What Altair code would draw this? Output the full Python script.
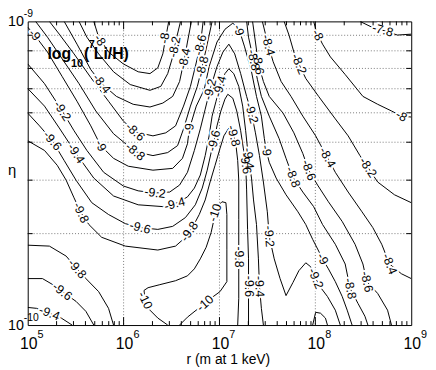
import math
import altair as alt
import pandas as pd

W, H = 389, 308

# axis decades
r_decades = [5, 6, 7, 8, 9]
eta_exponents = [-10, -9]

# ---- contour polylines, points are (log10 r, log10 eta) ----
c_m80_u = [(5.689,-9.000),(5.740,-9.052),(5.843,-9.101),(5.997,-9.140),(6.152,-9.166),(6.275,-9.172),
           (6.357,-9.153),(6.409,-9.107),(6.440,-9.052),(6.471,-9.000)]
c_m82_u = [(5.535,-9.000),(5.617,-9.052),(5.740,-9.107),(5.895,-9.166),(6.069,-9.208),(6.275,-9.227),
           (6.388,-9.214),(6.460,-9.172),(6.512,-9.117),(6.542,-9.068),(6.594,-9.000)]
c_m84_u = [(5.380,-9.000),(5.514,-9.075),(5.658,-9.159),(5.771,-9.205),(5.925,-9.247),(6.100,-9.273),
           (6.275,-9.282),(6.409,-9.269),(6.512,-9.247),(6.584,-9.198),(6.635,-9.123),(6.666,-9.068),(6.707,-9.000)]
c_m86_u = [(5.226,-9.000),(5.329,-9.042),(5.483,-9.107),(5.658,-9.185),(5.843,-9.263),(5.997,-9.328),
           (6.121,-9.364),(6.306,-9.377),(6.440,-9.367),(6.542,-9.344),(6.625,-9.279),(6.697,-9.214),
           (6.748,-9.149),(6.800,-9.078),(6.830,-9.000)]
c_m88_u = [(5.082,-9.000),(5.206,-9.052),(5.380,-9.133),(5.535,-9.205),(5.710,-9.295),(5.895,-9.370),
           (6.121,-9.429),(6.306,-9.442),(6.460,-9.432),(6.563,-9.409),(6.625,-9.354),(6.697,-9.279),
           (6.769,-9.214),(6.820,-9.149),(6.872,-9.075),(6.923,-9.000)]
c_m90 = [(5.000,-9.019),(5.072,-9.045),(5.206,-9.101),(5.360,-9.182),(5.514,-9.263),(5.658,-9.344),
         (5.761,-9.409),(5.895,-9.451),(6.049,-9.477),(6.306,-9.490),(6.512,-9.484),(6.614,-9.451),
         (6.666,-9.403),(6.686,-9.354),(6.758,-9.279),(6.841,-9.224),(6.892,-9.149),(6.974,-9.068),
         (7.057,-9.026),(7.139,-9.006),(7.201,-9.023),(7.262,-9.084),(7.334,-9.166),(7.386,-9.247),
         (7.437,-9.312),(7.468,-9.386),(7.488,-9.425),(7.519,-9.464),(7.591,-9.516),(7.694,-9.571),
         (7.818,-9.627),(7.900,-9.669),(7.972,-9.718),(8.034,-9.756),(8.075,-9.782),(8.136,-9.815),
         (8.208,-9.857),(8.280,-9.906),(8.332,-9.951),(8.383,-10.000)]
c_m92 = [(5.000,-9.140),(5.175,-9.205),(5.360,-9.295),(5.483,-9.360),(5.617,-9.425),(5.792,-9.497),
         (5.997,-9.542),(6.152,-9.558),(6.327,-9.565),(6.481,-9.562),(6.584,-9.539),(6.666,-9.497),
         (6.738,-9.425),(6.800,-9.354),(6.851,-9.289),(6.902,-9.224),(6.974,-9.149),(7.036,-9.101),
         (7.098,-9.075),(7.159,-9.107),(7.221,-9.172),(7.283,-9.247),(7.334,-9.302),(7.375,-9.367),
         (7.417,-9.442),(7.458,-9.529),(7.499,-9.627),(7.519,-9.708),(7.571,-9.782),(7.632,-9.847),
         (7.694,-9.903),(7.766,-9.860),(7.828,-9.821),(7.900,-9.795),(7.951,-9.808),(8.003,-9.847),
         (8.064,-9.880),(8.126,-9.906),(8.208,-9.951),(8.260,-10.000)]
c_m94 = [(5.000,-9.221),(5.175,-9.279),(5.329,-9.351),(5.504,-9.435),(5.689,-9.516),(5.895,-9.575),
         (6.152,-9.604),(6.409,-9.610),(6.563,-9.597),(6.666,-9.578),(6.738,-9.549),(6.800,-9.506),
         (6.851,-9.442),(6.892,-9.377),(6.923,-9.312),(6.964,-9.263),(7.005,-9.214),(7.057,-9.172),
         (7.098,-9.156),(7.149,-9.172),(7.201,-9.214),(7.242,-9.279),(7.273,-9.360),(7.303,-9.451),
         (7.334,-9.516),(7.355,-9.588),(7.386,-9.669),(7.406,-9.782),(7.417,-9.873),(7.437,-9.945),
         (7.458,-10.000)]
c_m96 = [(5.000,-9.302),(5.123,-9.344),(5.257,-9.393),(5.380,-9.458),(5.504,-9.523),(5.668,-9.597),
         (5.843,-9.636),(6.018,-9.666),(6.172,-9.679),(6.357,-9.685),(6.512,-9.675),(6.645,-9.646),
         (6.748,-9.604),(6.820,-9.549),(6.872,-9.490),(6.913,-9.432),(6.944,-9.393),(6.974,-9.344),
         (7.015,-9.295),(7.057,-9.256),(7.087,-9.240),(7.139,-9.253),(7.180,-9.295),(7.221,-9.360),
         (7.252,-9.425),(7.273,-9.468),(7.283,-9.555),(7.293,-9.685),(7.303,-9.782),(7.303,-9.870),
         (7.303,-10.000)]
c_m98 = [(5.000,-9.393),(5.175,-9.425),(5.308,-9.474),(5.401,-9.523),(5.483,-9.581),(5.555,-9.630),
         (5.638,-9.669),(5.771,-9.711),(6.018,-9.740),(6.357,-9.753),(6.542,-9.740),(6.645,-9.711),
         (6.717,-9.679),(6.789,-9.636),(6.851,-9.588),(6.902,-9.529),(6.954,-9.474),(7.005,-9.419),
         (7.046,-9.377),(7.098,-9.351),(7.139,-9.364),(7.170,-9.403),(7.190,-9.458),(7.201,-9.523),
         (7.201,-9.653),(7.201,-9.776),(7.201,-9.912),(7.190,-10.000)]
c_m100 = [(6.460,-10.000),(6.357,-9.977),(6.275,-9.951),(6.224,-9.919),(6.213,-9.886),(6.255,-9.877),
          (6.378,-9.867),(6.542,-9.854),(6.666,-9.838),(6.738,-9.815),(6.800,-9.782),(6.861,-9.744),
          (6.913,-9.695),(6.954,-9.636),(6.985,-9.607),(7.026,-9.594),(7.067,-9.597),(7.077,-9.636),
          (7.077,-9.750),(7.077,-9.857),(7.005,-9.890),(6.923,-9.909),(6.851,-9.929),(6.769,-9.948),
          (6.666,-9.974),(6.584,-10.000)]
c_m98_ll = [(5.000,-9.737),(5.226,-9.740),(5.401,-9.773),(5.514,-9.815),(5.607,-9.847),(5.740,-9.890),
            (5.843,-9.945),(5.895,-10.000)]
c_m96_ll = [(5.000,-9.847),(5.154,-9.847),(5.278,-9.870),(5.360,-9.890),(5.504,-9.922),(5.607,-9.955),
            (5.689,-10.000)]
c_m94_ll = [(5.000,-9.942),(5.093,-9.945),(5.226,-9.961),(5.350,-9.977),(5.463,-10.000)]
c_m92_bump = [(7.972,-10.000),(8.003,-9.958),(8.054,-9.961),(8.105,-9.977),(8.126,-10.000)]
c_m88_r = [(7.283,-9.000),(7.303,-9.052),(7.355,-9.127),(7.396,-9.192),(7.437,-9.247),(7.519,-9.312),
           (7.622,-9.386),(7.694,-9.451),(7.766,-9.513),(7.869,-9.562),(7.982,-9.610),(8.075,-9.669),
           (8.208,-9.734),(8.311,-9.799),(8.363,-9.880),(8.445,-9.929),(8.517,-9.971),(8.548,-10.000)]
c_m86_r = [(7.345,-9.000),(7.375,-9.068),(7.406,-9.140),(7.458,-9.198),(7.519,-9.247),(7.663,-9.302),
           (7.776,-9.367),(7.869,-9.435),(7.931,-9.490),(8.023,-9.539),(8.136,-9.594),(8.280,-9.659),
           (8.414,-9.734),(8.496,-9.799),(8.537,-9.857),(8.650,-9.896),(8.753,-9.951),(8.794,-10.000)]
c_m84_r = [(7.447,-9.000),(7.488,-9.052),(7.509,-9.078),(7.560,-9.133),(7.643,-9.198),(7.746,-9.247),
           (7.869,-9.312),(8.003,-9.377),(8.085,-9.425),(8.126,-9.448),(8.208,-9.497),(8.342,-9.562),
           (8.486,-9.627),(8.599,-9.679),(8.692,-9.734),(8.774,-9.799),(8.897,-9.831),(9.000,-9.847)]
c_m82_r = [(7.674,-9.000),(7.725,-9.045),(7.776,-9.101),(7.828,-9.140),(7.900,-9.188),(8.034,-9.247),
           (8.208,-9.321),(8.342,-9.377),(8.465,-9.442),(8.548,-9.481),(8.650,-9.529),(8.825,-9.571),
           (9.000,-9.597)]
c_m80_r = [(7.982,-9.000),(8.013,-9.036),(8.075,-9.075),(8.157,-9.117),(8.311,-9.175),(8.496,-9.247),
           (8.650,-9.273),(8.794,-9.295),(8.897,-9.312),(9.000,-9.315)]
c_m78 = [(8.465,-9.000),(8.589,-9.019),(8.702,-9.029),(8.856,-9.045),(9.000,-9.042)]

# ---- contour labels ----
lab_text = ["-8","-9","-8.4","-9.2","-9.6","-9.4","-9","-8.6","-8.8","-8","-8.2","-8.4","-8.6","-8.8",
            "-9","-9.2","-9.4","-9","-9.6","-9.8","-9.2","-8.8","-8.6","-8.4","-8.2","-8","-7.8","-9",
            "-9.4","-9.6","-8.8","-8.6","-8.4","-8.2","-8","-9.2","-9.4","-9.6","-9.8","-9.8","-9.8",
            "-9.6","-9.4","-10","-10","-10","-9.8","-9.6","-9.4","-9.2","-9.2","-9","-8.8","-8.6","-8.4"]
lab_lr = [5.751,5.072,5.771,5.360,5.257,5.504,5.761,6.121,6.121,6.429,6.532,6.635,6.800,6.820,
          6.686,6.902,7.005,7.201,6.944,7.149,7.334,7.355,7.406,7.509,7.828,8.023,8.702,7.488,
          7.303,7.273,7.766,7.931,8.126,8.548,8.897,6.327,6.532,6.172,6.686,5.555,5.514,
          5.360,5.226,6.224,6.954,6.851,7.201,7.303,7.417,7.519,8.003,8.075,8.363,8.537,8.774]
lab_leta = [-9.062,-9.045,-9.205,-9.295,-9.393,-9.435,-9.409,-9.364,-9.429,-9.055,-9.084,-9.123,-9.078,-9.149,
            -9.354,-9.224,-9.214,-9.029,-9.393,-9.377,-9.302,-9.127,-9.140,-9.078,-9.140,-9.045,-9.029,-9.425,
            -9.451,-9.468,-9.513,-9.490,-9.448,-9.481,-9.312,-9.565,-9.601,-9.679,-9.692,-9.630,-9.815,
            -9.890,-9.961,-9.919,-9.630,-9.929,-9.776,-9.873,-9.873,-9.708,-9.847,-9.782,-9.880,-9.857,-9.799]

lines = [(-8.0, c_m80_u), (-8.2, c_m82_u), (-8.4, c_m84_u), (-8.6, c_m86_u), (-8.8, c_m88_u),
         (-9.0, c_m90), (-9.2, c_m92), (-9.4, c_m94), (-9.6, c_m96), (-9.8, c_m98), (-10.0, c_m100),
         (-9.8, c_m98_ll), (-9.6, c_m96_ll), (-9.4, c_m94_ll), (-9.2, c_m92_bump),
         (-8.8, c_m88_r), (-8.6, c_m86_r), (-8.4, c_m84_r), (-8.2, c_m82_r), (-8.0, c_m80_r), (-7.8, c_m78)]

rows = []
for i, (lev, pts) in enumerate(lines):
    for j, (lx, ly) in enumerate(pts):
        rows.append({"id": i, "o": j, "r": 10 ** lx, "eta": 10 ** ly})
df_lines = pd.DataFrame(rows)


def to_screen(lx, ly):
    return (lx - 5) / 4 * W, (-9 - ly) * H


def label_angle(lev, lx, ly):
    px, py = to_screen(lx, ly)
    best = None
    for l, pts in lines:
        if abs(l - lev) > 1e-6:
            continue
        for (ax, ay), (bx, by) in zip(pts[:-1], pts[1:]):
            x1, y1 = to_screen(ax, ay)
            x2, y2 = to_screen(bx, by)
            dx, dy = x2 - x1, y2 - y1
            L2 = dx * dx + dy * dy
            t = max(0.0, min(1.0, ((px - x1) * dx + (py - y1) * dy) / L2)) if L2 > 0 else 0.0
            d = math.hypot(x1 + t * dx - px, y1 + t * dy - py)
            if best is None or d < best[0]:
                best = (d, dx, dy)
    ang = math.degrees(math.atan2(best[2], best[1]))
    while ang > 90:
        ang -= 180
    while ang <= -90:
        ang += 180
    return ang


df_lab = pd.DataFrame({
    "t": lab_text,
    "r": [10 ** v for v in lab_lr],
    "eta": [10 ** v for v in lab_leta],
    "ang": [label_angle(float(t), x, y) for t, x, y in zip(lab_text, lab_lr, lab_leta)],
})

FONT = "Liberation Sans"
xs = alt.Scale(type="log", domain=[1e5, 1e9], nice=False)
ys = alt.Scale(type="log", domain=[1e-10, 1e-9], nice=False)


def X():
    return alt.X("r:Q", scale=xs, axis=None)


def Y():
    return alt.Y("eta:Q", scale=ys, axis=None)


grid_col = "#7a7a7a"
grid_x = alt.Chart(pd.DataFrame({"r": [10.0 ** d for d in r_decades[1:-1]]})).mark_rule(
    color=grid_col, strokeDash=[1, 2], strokeWidth=1).encode(x=X(), y=alt.value(0), y2=alt.value(H))
grid_y = alt.Chart(pd.DataFrame({"eta": [k * 1e-10 for k in range(2, 10)]})).mark_rule(
    color=grid_col, strokeDash=[1, 2], strokeWidth=1).encode(y=Y(), x=alt.value(0), x2=alt.value(W))

minor_x = pd.DataFrame({"r": [k * 10.0 ** d for d in range(5, 9) for k in range(2, 10)]})
major_x = pd.DataFrame({"r": [10.0 ** d for d in r_decades[1:-1]]})
ticks_y = pd.DataFrame({"eta": [k * 1e-10 for k in range(2, 10)]})
tk = dict(color="black", strokeWidth=1)
ticks = [
    alt.Chart(minor_x).mark_rule(**tk).encode(x=X(), y=alt.value(H - 4), y2=alt.value(H)),
    alt.Chart(minor_x).mark_rule(**tk).encode(x=X(), y=alt.value(0), y2=alt.value(4)),
    alt.Chart(major_x).mark_rule(**tk).encode(x=X(), y=alt.value(H - 8), y2=alt.value(H)),
    alt.Chart(major_x).mark_rule(**tk).encode(x=X(), y=alt.value(0), y2=alt.value(8)),
    alt.Chart(ticks_y).mark_rule(**tk).encode(y=Y(), x=alt.value(0), x2=alt.value(5)),
    alt.Chart(ticks_y).mark_rule(**tk).encode(y=Y(), x=alt.value(W - 5), x2=alt.value(W)),
]

contour_lines = alt.Chart(df_lines).mark_line(color="black", strokeWidth=1, clip=True).encode(
    x=X(), y=Y(), detail="id:N", order="o:Q")

LSIZE = 12.5
lab_halo = alt.Chart(df_lab).mark_text(
    font=FONT, fontSize=LSIZE, color="white", stroke="white", strokeWidth=4, strokeJoin="round",
    align="center", baseline="middle").encode(
    x=X(), y=Y(), text="t:N", angle=alt.Angle("ang:Q", scale=None))
lab_txt = alt.Chart(df_lab).mark_text(
    font=FONT, fontSize=LSIZE, color="black", align="center", baseline="middle").encode(
    x=X(), y=Y(), text="t:N", angle=alt.Angle("ang:Q", scale=None))

# axis tick labels "10" with superscript exponent
df_xlab = pd.DataFrame({"r": [10.0 ** d for d in r_decades], "e": [str(d) for d in r_decades]})
xlab_base = alt.Chart(df_xlab).mark_text(font=FONT, fontSize=16, align="center", baseline="alphabetic",
                                         dx=1).encode(x=X(), y=alt.value(H + 24), text=alt.value("10"))
xlab_exp = alt.Chart(df_xlab).mark_text(font=FONT, fontSize=11, align="left", baseline="alphabetic",
                                        dx=10).encode(x=X(), y=alt.value(H + 13), text="e:N")
df_ylab = pd.DataFrame({"eta": [10.0 ** e for e in eta_exponents], "e": [str(e) for e in eta_exponents]})
ylab_base = alt.Chart(df_ylab).mark_text(font=FONT, fontSize=14.5, align="left", baseline="alphabetic",
                                         dy=5).encode(x=alt.value(-20), y=Y(), text=alt.value("10"))
ylab_exp = alt.Chart(df_ylab).mark_text(font=FONT, fontSize=10.5, align="left", baseline="alphabetic",
                                        dy=-4).encode(x=alt.value(-4), y=Y(), text="e:N")

one = pd.DataFrame({"a": [0]})


def txt(s, x, y, size, bold=False, align="left"):
    return alt.Chart(one).mark_text(font=FONT, fontSize=size, fontWeight="bold" if bold else "normal",
                                    align=align, baseline="alphabetic", color="black").encode(
        x=alt.value(x), y=alt.value(y), text=alt.value(s))


title_parts = [
    txt("log", 20, 38, 16, True),
    txt("10", 44, 46, 11, True),
    txt("(", 57, 38, 16, True),
    txt("7", 62, 27, 11, True),
    txt("Li/H)", 67, 38, 16, True),
]
xtitle = txt("r (m at 1 keV)", 203.5, H + 39, 14, align="center")
ytitle = txt("η", -20, 156, 15)

chart = alt.layer(
    grid_x, grid_y, contour_lines, lab_halo, lab_txt, *ticks,
    xlab_base, xlab_exp, ylab_base, ylab_exp, *title_parts, xtitle, ytitle
).properties(
    width=W, height=H,
    autosize=alt.AutoSizeParams(type="none"),
    padding={"left": 20, "top": 11, "right": 17, "bottom": 42},
    background="white",
).configure_view(stroke="black", strokeWidth=1)

chart.save("out.html", embed_options={"renderer": "svg", "actions": False})
